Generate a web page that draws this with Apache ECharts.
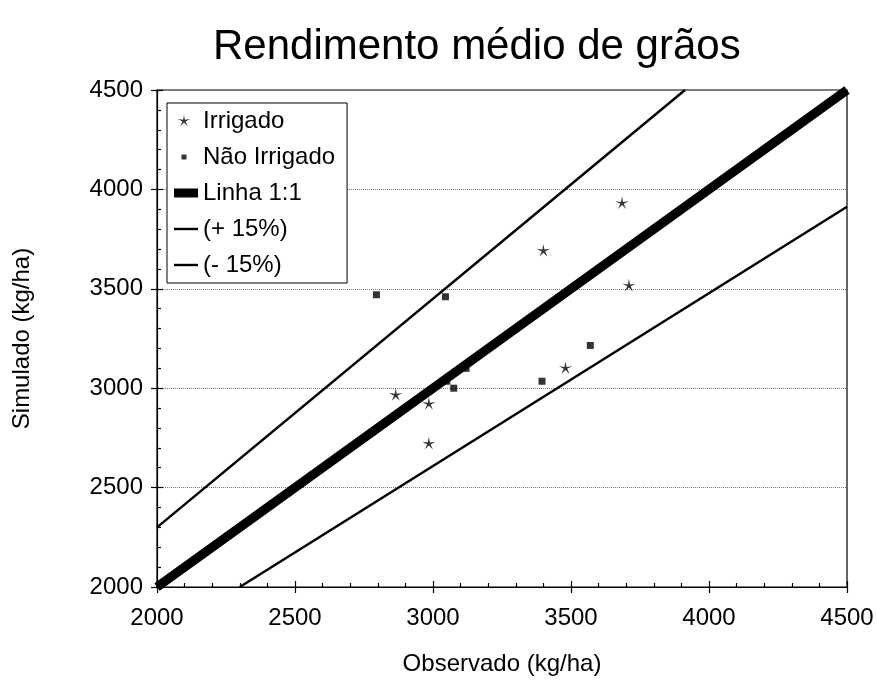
<!DOCTYPE html>
<html>
<head>
<meta charset="utf-8">
<script src="https://cdn.jsdelivr.net/npm/echarts@6/dist/echarts.min.js"></script>
<style>html,body{margin:0;padding:0;background:#fff}#c{width:877px;height:681px}</style>
</head>
<body>
<div id="c"></div>
<script>
// ---- Data ----
const irrigadoObs = [2865, 2985, 2985, 3400, 3685, 3710, 3480];
const irrigadoSim = [2965, 2920, 2720, 3690, 3930, 3515, 3100];
const naoObs = [2795, 3045, 3050, 3075, 3120, 3395, 3570];
const naoSim = [3470, 3460, 3035, 3000, 3100, 3035, 3215];
const linhaX = [2000, 4500];
const linhaY = [2000, 4500];
const plusX = [2000, 3913];
const plusY = [2300, 4500];
const minusX = [2300, 4500];
const minusY = [2000, 3913];
const xTicks = [2000, 2500, 3000, 3500, 4000, 4500];
const yTicks = [2000, 2500, 3000, 3500, 4000, 4500];
const seriesNames = ['Irrigado', 'Não Irrigado', 'Linha 1:1', '(+ 15%)', '(- 15%)'];

const zip = (a, b) => a.map((v, i) => [v, b[i]]);
const FONT = 'Liberation Sans, Arial, Helvetica, sans-serif';

const starPath = 'path://M-10,-10M10,10M0,-10L1.47,-2.02L9.51,-3.09L2.38,0.77L5.88,8.09L0,2.5L-5.88,8.09L-2.38,0.77L-9.51,-3.09L-1.47,-2.02Z';
const iconStar = 'path://M0,0M24,12M10,0L10.9,4.8L16.2,4.1L11.6,6.5L13.8,11.2L10,7.6L6.2,11.2L8.4,6.5L3.8,4.1L9.1,4.8Z';
const iconSquare = 'path://M0,0M24,12M7.5,3.5L12.5,3.5L12.5,8.5L7.5,8.5Z';
const iconThick = 'path://M0,0M24,12M0,1.5L24,1.5L24,10.5L0,10.5Z';
const iconThin = 'path://M0,0M24,12M0,4.8L24,4.8L24,7.2L0,7.2Z';

const xmin = xTicks[0], xmax = xTicks[xTicks.length - 1];
const ymin = yTicks[0], ymax = yTicks[yTicks.length - 1];
const step = xTicks[1] - xTicks[0];
const plain = v => String(v);

const baseAxis = {
  type: 'value',
  interval: step,
  axisLine: {show: true, onZero: false, lineStyle: {color: '#000', width: 1.2}},
};

const chart = echarts.init(document.getElementById('c'));
chart.setOption({
  backgroundColor: '#fff',
  animation: false,
  textStyle: {fontFamily: FONT},
  title: {
    text: 'Rendimento médio de grãos',
    left: 213, top: 26, padding: 0,
    textStyle: {fontFamily: FONT, fontSize: 42, fontWeight: 'normal', color: '#000'}
  },
  grid: {left: 157, right: 30, top: 90, bottom: 89, show: true, borderColor: '#000', borderWidth: 1.2, backgroundColor: 'transparent'},
  legend: {
    orient: 'vertical', left: 167, top: 103,
    padding: [6, 12, 6, 7], itemGap: 12, itemWidth: 24, itemHeight: 12,
    borderColor: '#000', borderWidth: 1, backgroundColor: '#fff',
    textStyle: {fontFamily: FONT, fontSize: 24, color: '#000', lineHeight: 24},
    itemStyle: {borderWidth: 0},
    data: [
      {name: seriesNames[0], icon: iconStar},
      {name: seriesNames[1], icon: iconSquare},
      {name: seriesNames[2], icon: iconThick},
      {name: seriesNames[3], icon: iconThin},
      {name: seriesNames[4], icon: iconThin}
    ]
  },
  xAxis: [
    Object.assign({}, baseAxis, {
      min: xmin, max: xmax, position: 'bottom',
      axisTick: {show: true, inside: false, length: 6, lineStyle: {color: '#000', width: 1.2}},
      axisLabel: {color: '#000', fontSize: 24, margin: 19, fontFamily: FONT, formatter: plain},
      splitLine: {show: false},
      name: 'Observado (kg/ha)', nameLocation: 'middle', nameGap: 65,
      nameTextStyle: {color: '#000', fontSize: 24, fontFamily: FONT}
    }),
    Object.assign({}, baseAxis, {
      min: xmin, max: xmax, position: 'bottom',
      axisLine: {show: false},
      axisTick: {show: true, inside: true, length: 6, lineStyle: {color: '#000', width: 1.2}},
      minorTick: {show: true, splitNumber: 5, length: 4, lineStyle: {color: '#000', width: 1.2}},
      axisLabel: {show: false}, splitLine: {show: false}
    })
  ],
  yAxis: [
    Object.assign({}, baseAxis, {
      min: ymin, max: ymax, position: 'left',
      axisTick: {show: true, inside: false, length: 6, lineStyle: {color: '#000', width: 1.2}},
      axisLabel: {color: '#000', fontSize: 24, margin: 14, fontFamily: FONT, formatter: plain},
      splitLine: {show: true, lineStyle: {color: '#777', type: 'dotted', width: 1}},
      name: 'Simulado (kg/ha)', nameLocation: 'middle', nameGap: 123,
      nameTextStyle: {color: '#000', fontSize: 24, fontFamily: FONT}
    }),
    Object.assign({}, baseAxis, {
      min: ymin, max: ymax, position: 'left',
      axisLine: {show: false},
      axisTick: {show: true, inside: true, length: 6, lineStyle: {color: '#000', width: 1.2}},
      minorTick: {show: true, splitNumber: 5, length: 4, lineStyle: {color: '#000', width: 1.2}},
      axisLabel: {show: false}, splitLine: {show: false}
    })
  ],
  series: [
    {name: seriesNames[0], type: 'scatter', data: zip(irrigadoObs, irrigadoSim),
     symbol: starPath, symbolSize: 14, itemStyle: {color: '#000'}, z: 5},
    {name: seriesNames[1], type: 'scatter', data: zip(naoObs, naoSim),
     symbol: 'rect', symbolSize: 7, itemStyle: {color: '#000'}, z: 5},
    {name: seriesNames[2], type: 'line', data: zip(linhaX, linhaY), showSymbol: false, symbol: 'none',
     clip: false, lineStyle: {color: '#000', width: 9}, itemStyle: {color: '#000'}, z: 3},
    {name: seriesNames[3], type: 'line', data: zip(plusX, plusY), showSymbol: false, symbol: 'none',
     lineStyle: {color: '#000', width: 2.5}, itemStyle: {color: '#000'}, z: 3},
    {name: seriesNames[4], type: 'line', data: zip(minusX, minusY), showSymbol: false, symbol: 'none',
     lineStyle: {color: '#000', width: 2.5}, itemStyle: {color: '#000'}, z: 3}
  ]
});
</script>
</body>
</html>
